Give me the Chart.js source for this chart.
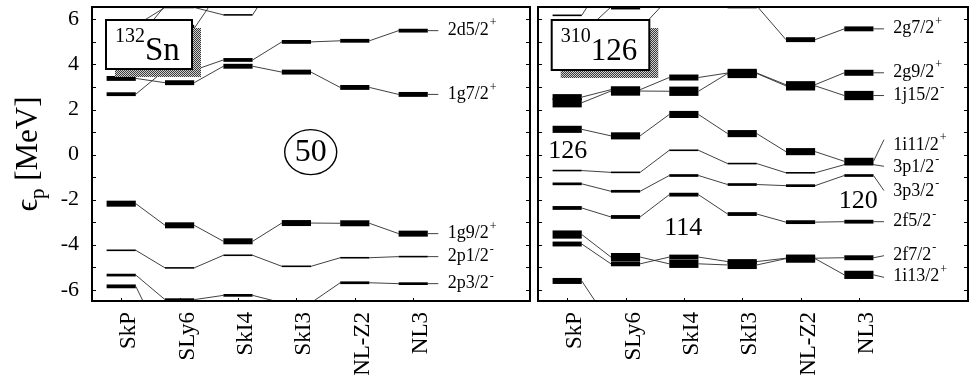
<!DOCTYPE html>
<html>
<head>
<meta charset="utf-8">
<script src="https://cdn.jsdelivr.net/npm/chart.js@4.4.1/dist/chart.umd.min.js"></script>
<style>
  html, body { margin: 0; padding: 0; background: #fff; }
  #wrap { position: relative; width: 970px; height: 376px; overflow: hidden; }
  #left { position: absolute; left: 0; top: 0; }
  #right { position: absolute; left: 533px; top: 0; }
</style>
</head>
<body>
<div id="wrap">
  <canvas id="left" width="533" height="376"></canvas>
  <canvas id="right" width="437" height="376"></canvas>
</div>
<script>
// ---- forces (x categories) and energy ticks ----
const models = ['SkP', 'SLy6', 'SkI4', 'SkI3', 'NL-Z2', 'NL3'];
const energyTicks = [-6, -4, -2, 0, 2, 4, 6];

// ---- 132Sn: proton single-particle energies [MeV], one value per force ----
const sn_1h11 = [5.4, 5.6, 7.5, 9, 9, 9];
const sn_3s1  = [5.73, 6.53, 6.2, 8.2, 9, 9];
const sn_2d3  = [5.03, 6.6, 8, 9, 9, 9];
const sn_2d5  = [2.68, 3.75, 4.2, 5.0, 5.05, 5.5];
const sn_1g7  = [3.38, 3.19, 3.92, 3.66, 2.98, 2.67];
const sn_1g9  = [-2.18, -3.14, -3.85, -3.04, -3.05, -3.51];
const sn_2p1  = [-4.25, -5.03, -4.47, -4.96, -4.58, -4.53];
const sn_2p3  = [-5.35, -6.44, -6.25, -6.58, -5.69, -5.73];
const sn_1f5  = [-5.85, -8.5, -9, -9, -9, -9];

// ---- 310126: proton single-particle energies [MeV] ----
const sh_4s1  = [6.18, 8.2, 9, 9, 9, 9];
const sh_3d5  = [5.2, 5.58, 6.96, 9, 9, 9];
const sh_2g7  = [5.35, 6.55, 7.5, 6.6, 5.1, 5.58];
const sh_2g9  = [2.55, 2.88, 3.42, 3.62, 3.1, 3.63];
const sh_1j15 = [2.3, 2.82, 2.81, 3.6, 3.05, 2.62];
const sh_1i11 = [1.12, 0.83, 1.78, 0.93, 0.13, -0.3];
const sh_3p1  = [-0.71, -0.79, 0.19, -0.4, -0.81, -0.45];
const sh_3p3  = [-1.3, -1.63, -0.93, -1.33, -1.38, -0.93];
const sh_2f5  = [-2.37, -2.77, -1.78, -2.64, -3.0, -2.98];
const sh_2f7  = [-3.97, -4.85, -4.55, -4.75, -4.6, -4.58];
const sh_1i13 = [-3.55, -4.55, -4.85, -4.9, -4.62, -5.34];
const sh_1h9  = [-5.61, -7.56, -9, -9, -9, -9];

// level tables (orbital, parity, energies)
const snLevels = [
  { name: '1h11/2', parity: '-', values: sn_1h11 },
  { name: '2d3/2',  parity: '+', values: sn_2d3 },
  { name: '3s1/2',  parity: '+', values: sn_3s1 },
  { name: '2d5/2',  parity: '+', values: sn_2d5 },
  { name: '1g7/2',  parity: '+', values: sn_1g7 },
  { name: '1g9/2',  parity: '+', values: sn_1g9 },
  { name: '2p1/2',  parity: '-', values: sn_2p1 },
  { name: '2p3/2',  parity: '-', values: sn_2p3 },
  { name: '1f5/2',  parity: '-', values: sn_1f5 }
];
const shLevels = [
  { name: '4s1/2',  parity: '+', values: sh_4s1 },
  { name: '3d5/2',  parity: '+', values: sh_3d5 },
  { name: '2g7/2',  parity: '+', values: sh_2g7 },
  { name: '2g9/2',  parity: '+', values: sh_2g9 },
  { name: '1j15/2', parity: '-', values: sh_1j15 },
  { name: '1i11/2', parity: '+', values: sh_1i11 },
  { name: '3p1/2',  parity: '-', values: sh_3p1 },
  { name: '3p3/2',  parity: '-', values: sh_3p3 },
  { name: '2f5/2',  parity: '-', values: sh_2f5 },
  { name: '2f7/2',  parity: '-', values: sh_2f7 },
  { name: '1i13/2', parity: '+', values: sh_1i13 },
  { name: '1h9/2',  parity: '-', values: sh_1h9 }
];

// where each level name is written at the right end (energy of leader end / text centre)
const snTagPos = {
  '2d5/2': { line: 5.5, text: 5.52 },
  '1g7/2': { line: 2.67, text: 2.67 },
  '1g9/2': { line: -3.51, text: -3.5 },
  '2p1/2': { line: -4.53, text: -4.52 },
  '2p3/2': { line: -5.73, text: -5.72 }
};
const shTagPos = {
  '2g7/2':  { line: 5.58, text: 5.6 },
  '2g9/2':  { line: 3.63, text: 3.65 },
  '1j15/2': { line: 2.62, text: 2.63 },
  '1i11/2': { line: 0.66, text: 0.42 },
  '3p1/2':  { line: -0.52, text: -0.55 },
  '3p3/2':  { line: -1.6, text: -1.62 },
  '2f5/2':  { line: -2.98, text: -2.97 },
  '2f7/2':  { line: -4.49, text: -4.45 },
  '1i13/2': { line: -5.45, text: -5.42 }
};

const SERIF = "'Liberation Serif', 'DejaVu Serif', serif";
const BAR_HALF = 0.25, TAG_LINE_END = 5.43, TAG_TEXT_X = 5.59;

// bar thickness grows with the level degeneracy 2j+1
function degeneracy(name) { return parseInt(name.match(/(\d+)\/2$/)[1], 10) + 1; }
function barPx(name) { return 0.55 * degeneracy(name) + 0.5; }

function buildDatasets(levels, tags) {
  return levels.map(lv => {
    const pts = [];
    lv.values.forEach((v, i) => { pts.push({ x: i - BAR_HALF, y: v }, { x: i + BAR_HALF, y: v }); });
    const tag = tags[lv.name];
    if (tag) pts.push({ x: TAG_LINE_END, y: tag.line });
    const bar = barPx(lv.name);
    const isBar = c => c.p0DataIndex % 2 === 0 && c.p0DataIndex < 2 * lv.values.length;
    return {
      label: lv.name,
      data: pts,
      showLine: true,
      pointRadius: 0,
      pointHoverRadius: 0,
      borderColor: '#000',
      borderWidth: 1,
      borderCapStyle: 'butt',
      tension: 0,
      clip: 0,
      segment: {
        borderWidth: c => (isBar(c) ? bar : 0.9),
        borderColor: c => (isBar(c) ? '#000' : '#2b2b2b')
      }
    };
  });
}

function stipple(ctx) {
  const p = document.createElement('canvas');
  p.width = 2; p.height = 2;
  const g = p.getContext('2d');
  g.fillStyle = '#d0d0d0'; g.fillRect(0, 0, 2, 2);
  g.fillStyle = '#3a3a3a'; g.fillRect(0, 0, 1, 1); g.fillRect(1, 1, 1, 1);
  return ctx.createPattern(p, 'repeat');
}

function drawTag(ctx, x, y, name, parity) {
  ctx.fillStyle = '#000';
  ctx.textAlign = 'left';
  ctx.textBaseline = 'middle';
  ctx.font = `18px ${SERIF}`;
  ctx.fillText(name, x, y);
  const w = ctx.measureText(name).width;
  ctx.font = `12px ${SERIF}`;
  ctx.fillText(parity, x + w + 1, y - 7);
}

function makeDecor(cfg) {
  return {
    id: 'decor',
    afterDatasetsDraw(chart) {
      const { ctx, chartArea: a, scales: { x, y } } = chart;
      ctx.save();

      // level names with leader lines
      cfg.levels.forEach(lv => {
        const t = cfg.tags[lv.name];
        if (!t) return;
        drawTag(ctx, x.getPixelForValue(TAG_TEXT_X), y.getPixelForValue(t.text), lv.name, lv.parity);
      });

      // shell-gap numbers
      ctx.fillStyle = '#000';
      ctx.textAlign = 'center';
      ctx.textBaseline = 'middle';
      cfg.notes.forEach(n => {
        const px = x.getPixelForValue(n.x), py = y.getPixelForValue(n.y);
        ctx.font = `${n.size}px ${SERIF}`;
        ctx.fillText(n.text, px, py + 1);
        if (n.ring) {
          ctx.beginPath();
          ctx.lineWidth = 1.4;
          ctx.strokeStyle = '#000';
          ctx.ellipse(px, py, n.ring[0], n.ring[1], 0, 0, Math.PI * 2);
          ctx.stroke();
        }
      });

      // nucleus name box with a stippled drop shadow
      const b = cfg.box;
      const bx = a.left + b.dx, by = a.top + b.dy;
      ctx.fillStyle = stipple(ctx);
      ctx.fillRect(bx + 9, by + 8, b.w, b.h);
      ctx.fillStyle = '#fff';
      ctx.fillRect(bx, by, b.w, b.h);
      ctx.lineWidth = 2;
      ctx.strokeStyle = '#000';
      ctx.strokeRect(bx, by, b.w, b.h);
      ctx.fillStyle = '#000';
      ctx.textAlign = 'left';
      ctx.textBaseline = 'alphabetic';
      ctx.font = `${b.supSize}px ${SERIF}`;
      ctx.fillText(b.sup, bx + 9, by + 21.5);
      const ws = ctx.measureText(b.sup).width;
      ctx.font = `${b.mainSize}px ${SERIF}`;
      ctx.fillText(b.main, bx + 9 + ws, by + 40);

      // frame
      ctx.lineWidth = 2;
      ctx.strokeStyle = '#000';
      ctx.strokeRect(a.left, a.top, a.right - a.left, a.bottom - a.top);

      // inward tick marks
      ctx.lineWidth = 1;
      ctx.beginPath();
      for (let v = -6; v <= 6; v++) {
        const py = Math.round(y.getPixelForValue(v)) + 0.5;
        ctx.moveTo(a.left, py); ctx.lineTo(a.left + 4, py);
        ctx.moveTo(a.right, py); ctx.lineTo(a.right - 4, py);
      }
      models.forEach((m, i) => {
        const px = Math.round(x.getPixelForValue(i)) + 0.5;
        ctx.moveTo(px, a.bottom); ctx.lineTo(px, a.bottom - 3);
      });
      ctx.stroke();

      // energy axis title
      if (cfg.title) {
        ctx.save();
        ctx.translate(37, (a.top + a.bottom) / 2);
        ctx.rotate(-Math.PI / 2);
        ctx.fillStyle = '#000';
        ctx.textBaseline = 'alphabetic';
        ctx.textAlign = 'left';
        ctx.font = `31px ${SERIF}`;
        const wE = ctx.measureText('\u03F5').width;
        const wM = ctx.measureText(' [MeV]').width;
        ctx.font = `21px ${SERIF}`;
        const wP = ctx.measureText('p').width;
        let sx = -(wE + wP + wM) / 2;
        ctx.font = `31px ${SERIF}`;
        ctx.fillText('\u03F5', sx, 0); sx += wE;
        ctx.font = `21px ${SERIF}`;
        ctx.fillText('p', sx, 7); sx += wP;
        ctx.font = `31px ${SERIF}`;
        ctx.fillText(' [MeV]', sx, 0);
        ctx.restore();
      }
      ctx.restore();
    }
  };
}

function makeChart(canvasId, levels, tags, xMax, withAxis, cfg) {
  return new Chart(document.getElementById(canvasId), {
    type: 'scatter',
    data: { datasets: buildDatasets(levels, tags) },
    options: {
      responsive: false,
      maintainAspectRatio: false,
      devicePixelRatio: 1,
      animation: false,
      events: [],
      layout: { autoPadding: false, padding: withAxis ? { left: 0, right: 3, top: 7, bottom: 0 } : { left: 5, right: 2, top: 7, bottom: 0 } },
      plugins: { legend: { display: false }, tooltip: { enabled: false } },
      scales: {
        x: {
          type: 'linear',
          min: -0.5,
          max: xMax,
          afterBuildTicks: s => { s.ticks = models.map((_, i) => ({ value: i })); },
          afterFit: s => { s.height = 75; s.paddingLeft = 0; s.paddingRight = 0; s.paddingTop = 0; s.paddingBottom = 0; },
          grid: { display: false, drawTicks: false },
          border: { display: false },
          ticks: {
            autoSkip: false,
            minRotation: 90,
            maxRotation: 90,
            padding: 11,
            labelOffset: 8,
            color: '#000',
            font: { family: SERIF, size: 23 },
            callback: v => models[v]
          }
        },
        y: {
          type: 'linear',
          min: -6.5,
          max: 6.55,
          display: withAxis,
          afterBuildTicks: s => { s.ticks = energyTicks.map(v => ({ value: v })); },
          afterFit: s => { s.width = withAxis ? 92 : 0; s.paddingLeft = 0; s.paddingRight = 0; s.paddingTop = 0; s.paddingBottom = 0; },
          grid: { display: false, drawTicks: false },
          border: { display: false },
          ticks: {
            padding: 13,
            color: '#000',
            font: { family: SERIF, size: 22 },
            callback: v => String(v)
          }
        }
      }
    },
    plugins: [makeDecor(cfg)]
  });
}

makeChart('left', snLevels, snTagPos, 7, true, {
  levels: snLevels,
  tags: snTagPos,
  title: true,
  notes: [{ text: '50', x: 3.245, y: 0.11, size: 32, ring: [26, 22.5] }],
  box: { dx: 14, dy: 13, w: 86, h: 49, sup: '132', main: 'Sn', supSize: 20, mainSize: 33 }
});

makeChart('right', shLevels, shTagPos, 6.87, false, {
  levels: shLevels,
  tags: shTagPos,
  title: false,
  notes: [
    { text: '126', x: 0.01, y: 0.2, size: 26 },
    { text: '114', x: 1.99, y: -3.22, size: 26 },
    { text: '120', x: 4.99, y: -2.04, size: 26 }
  ],
  box: { dx: 13.7, dy: 13, w: 97.6, h: 50, sup: '310', main: '126', supSize: 20, mainSize: 31 }
});
</script>
</body>
</html>
